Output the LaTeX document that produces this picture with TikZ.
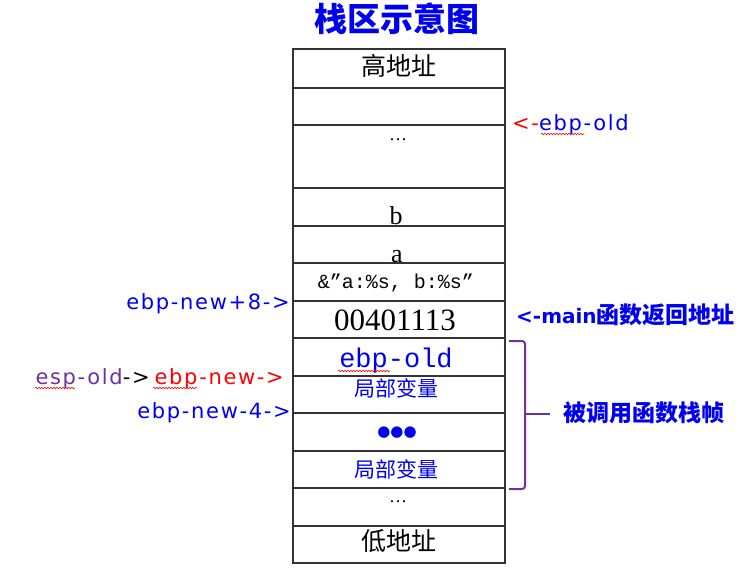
\documentclass[tikz,border=0pt]{standalone}
\usepackage{fontspec}
\setmainfont{Liberation Serif}
\newfontfamily\cjk{Noto Sans CJK SC}
\newfontfamily\lat{DejaVu Sans}[LetterSpace=8]
\newfontfamily\mono{Liberation Mono}
\newfontfamily\dv{DejaVu Sans}
\usetikzlibrary{decorations.pathmorphing}
\definecolor{myblue}{RGB}{0,0,240}
\definecolor{myred}{RGB}{255,0,0}
\definecolor{mypurple}{RGB}{112,48,160}
\begin{document}
\begin{tikzpicture}[x=1pt,y=-1pt,
  cell/.style={draw=black!80,line width=1.3pt,minimum width=212pt,inner sep=0pt,rectangle},
  txt/.style={inner sep=0pt},
  wavy/.style={draw=myred,line width=0.6pt,decorate,decoration={snake,amplitude=0.8pt,segment length=3pt}},
  bracestyle/.style={draw=mypurple,line width=2pt,rounded corners=3pt}]
\useasboundingbox (0,0) rectangle (743,571);
% title
\node[txt,text=myblue,font={\cjk\bfseries\fontsize{33}{35}\selectfont}] (title) at (397,19) {栈区示意图};
% cells
\foreach \n/\c/\h in {1/68.5/39,2/106.5/37,3/156.5/63,4/207/38,5/244.5/37,6/282/38,7/319.5/37,8/357/38,9/394.5/37,10/432/38,11/469.5/37,12/507/38,13/544.5/37}
  \node[cell,minimum height=\h pt] (r\n) at (399,\c) {};
% cell texts
\node[txt,font={\cjk\fontsize{25}{27}\selectfont}] (t1) at (399,66) {高地址};
\node[txt,font={\fontsize{18}{20}\selectfont}] (t3) at (398,140) {…};
\node[txt,anchor=base,font={\fontsize{26}{28}\selectfont}] (t4) at (396,224) {b};
\node[txt,anchor=base,font={\fontsize{26}{28}\selectfont}] (t5) at (397,262) {a};
\node[txt,font={\mono\fontsize{20}{22}\selectfont}] (t6) at (396,283) {\&”a:\%s, b:\%s”};
\node[txt,anchor=base,font={\fontsize{31}{33}\selectfont}] (t7) at (395,330) {00401113};
\node[txt,anchor=base,text=myblue,font={\mono\fontsize{27}{29}\selectfont}] (t8) at (396,367) {ebp-old};
\node[txt,text=myblue,font={\cjk\fontsize{21}{23}\selectfont}] (t9) at (396,388) {局部变量};
\node[txt,text=myblue,font={\dv\fontsize{15}{17}\selectfont}] (t10) at (397,433) {●●●};
\node[txt,text=myblue,font={\cjk\fontsize{21}{23}\selectfont}] (t11) at (396,469) {局部变量};
\node[txt,font={\fontsize{18}{20}\selectfont}] (t12) at (398,502) {…};
\node[txt,font={\cjk\fontsize{25}{27}\selectfont}] (t13) at (399,541) {低地址};
% left labels
\node[txt,anchor=base east,text=myblue,font={\lat\fontsize{21}{23}\selectfont}] (l1) at (290,309) {ebp-new+8->};
\node[txt,anchor=base east,font={\lat\fontsize{21}{23}\selectfont}] (l2) at (284,384) {\textcolor{mypurple}{esp-old}->\hspace{5pt}\textcolor{myred}{ebp-new->}};
\node[txt,anchor=base east,text=myblue,font={\lat\fontsize{21}{23}\selectfont}] (l3) at (291,418) {ebp-new-4->};
% right labels
\node[txt,anchor=base west,font={\lat\fontsize{21}{23}\selectfont}] (rl1) at (512,130) {\textcolor{myred}{<-}\textcolor{myblue}{ebp-old}};
\node[txt,anchor=base west,text=myblue] (rl2) at (516,323) {{\dv\bfseries\fontsize{20}{22}\selectfont <-main}{\cjk\bfseries\fontsize{23}{25}\selectfont 函数返回地址}};
\node[txt,anchor=base west,text=myblue,font={\cjk\bfseries\fontsize{23}{25}\selectfont}] (rl3) at (563,421) {被调用函数栈帧};
% brace
\coordinate (bt) at (509,341);
\coordinate (bb) at (509,489);
\coordinate (bm) at (550,414);
\draw[bracestyle] (bt) -- (525,341) -- (525,489) -- (bb);
\draw[bracestyle] (525,414) -- (bm);
% spell-check underlines
\draw[wavy] (541,134) -- (584,134);
\draw[wavy] (35,388) -- (75,388);
\draw[wavy] (153,388) -- (197,388);
\draw[wavy] (338,371) -- (390,371);
\end{tikzpicture}
\end{document}
